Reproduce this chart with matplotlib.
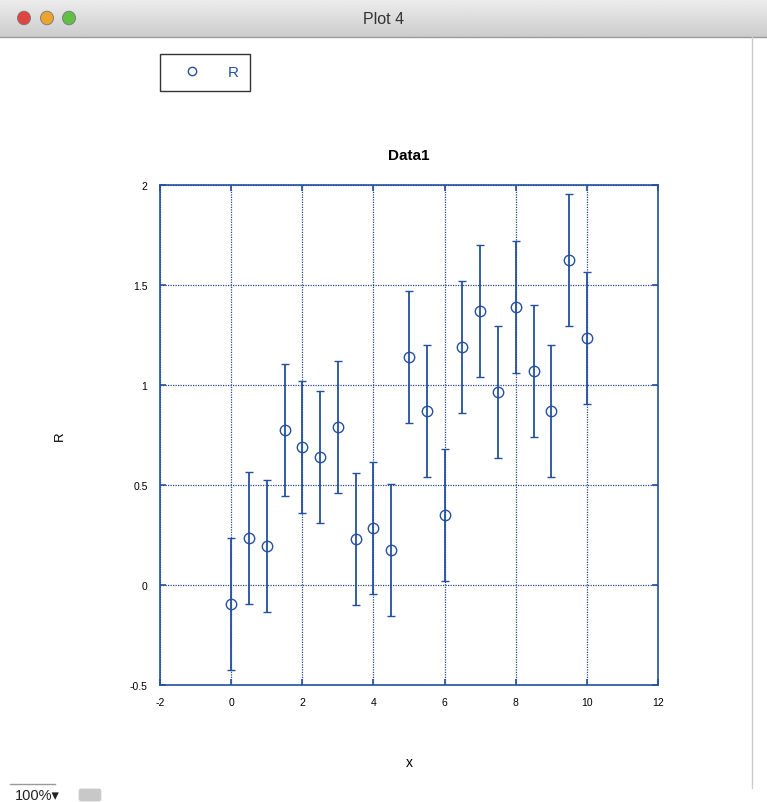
import numpy as np
import matplotlib
matplotlib.use('Agg')
import matplotlib.pyplot as plt
from matplotlib.patches import Circle, FancyBboxPatch

plt.rcParams['font.family'] = ['Liberation Sans', 'DejaVu Sans']
plt.rcParams['axes.unicode_minus'] = False

# data
x = [0, 0.5, 1, 1.5, 2, 2.5, 3, 3.5, 4, 4.5, 5, 5.5, 6, 6.5, 7, 7.5, 8, 8.5, 9, 9.5, 10]
R = [-0.095, 0.235, 0.195, 0.775, 0.69, 0.64, 0.79, 0.23, 0.285, 0.175, 1.14,
     0.87, 0.35, 1.19, 1.37, 0.965, 1.39, 1.07, 0.87, 1.625, 1.235]
err = [0.33] * len(x)

xticks = [-2, 0, 2, 4, 6, 8, 10, 12]
yticks = [-0.5, 0, 0.5, 1, 1.5, 2]
yticklabels = ['-0.5', '0', '0.5', '1', '1.5', '2']

blue = '#2450a0'
W, H = 767, 803
fig = plt.figure(figsize=(W / 100, H / 100), dpi=100)
fig.patch.set_facecolor('white')

# window chrome
grad = np.linspace(0.93, 0.80, 50).reshape(-1, 1)
bar = fig.add_axes([0, 1 - 38 / H, 1, 38 / H])
bar.imshow(grad, cmap='gray', vmin=0, vmax=1, aspect='auto', extent=[0, 1, 0, 1])
bar.set_axis_off()
fig.add_artist(plt.Line2D([0, 1], [1 - 38 / H, 1 - 38 / H], color='#9a9a9a', lw=1))
fig.text(0.5, 1 - 19 / H, 'Plot 4', ha='center', va='center', fontsize=11.5, color='#333333')
for cx, c in [(24, '#e0443e'), (47, '#e9a530'), (69, '#5fbf47')]:
    fig.add_artist(Circle((cx / W, 1 - 19 / H), 6.5 / W, transform=fig.transFigure,
                          facecolor=c, edgecolor='#777777', lw=0.6))
fig.add_artist(plt.Line2D([752 / W, 752 / W], [14 / H, 1 - 38 / H], color='#cccccc', lw=1))
fig.add_artist(plt.Line2D([10 / W, 55 / W], [1 - 785 / H, 1 - 785 / H], color='#999999', lw=1))
fig.text(15 / W, 1 - 796 / H, '100%\u25be', ha='left', va='center', fontsize=10.5, color='#222222')
fig.add_artist(FancyBboxPatch((81 / W, 1 - 800 / H), 18 / W, 8 / H, boxstyle='round,pad=0.003',
                              transform=fig.transFigure, facecolor='#c8c8c8', edgecolor='none'))

ax = fig.add_axes([160 / W, 1 - 686 / H, 498 / W, 500 / H])
h = ax.errorbar(x, R, yerr=err, fmt='o', mfc='none', mec=blue, ms=7.5, mew=1,
                ecolor=blue, elinewidth=1.3, capsize=3, capthick=1.3, label='R')
ax.set_xlim(-2, 12)
ax.set_ylim(-0.5, 2)
ax.set_xticks(xticks)
ax.set_yticks(yticks)
ax.set_yticklabels(yticklabels)
ax.grid(True, color='#2a4a8a', linestyle=(0, (1, 1)), lw=0.9)
for s in ax.spines.values():
    s.set_color(blue)
    s.set_linewidth(1.2)
ax.tick_params(direction='in', top=True, right=True, colors=blue, labelcolor='black',
               labelsize=7.5, length=4, width=1.2, pad=9)
ax.set_title('Data1', fontsize=11, fontweight='bold', pad=19)
ax.set_xlabel('x', fontsize=10, labelpad=34)
ax.set_ylabel('R', fontsize=9.5, labelpad=46)

# legend box at top left
leg = fig.legend([h[0]], ['R'], loc='upper left', bbox_to_anchor=(160 / W, 1 - 55 / H),
                 frameon=True, fancybox=False, edgecolor='black', labelcolor=blue,
                 fontsize=11, handlelength=2.7, borderpad=0.75, handletextpad=1.0,
                 borderaxespad=0)
leg.get_frame().set_linewidth(1.0)
leg.legend_handles[0].set_markersize(6)

fig.savefig('out.png', dpi=100)
